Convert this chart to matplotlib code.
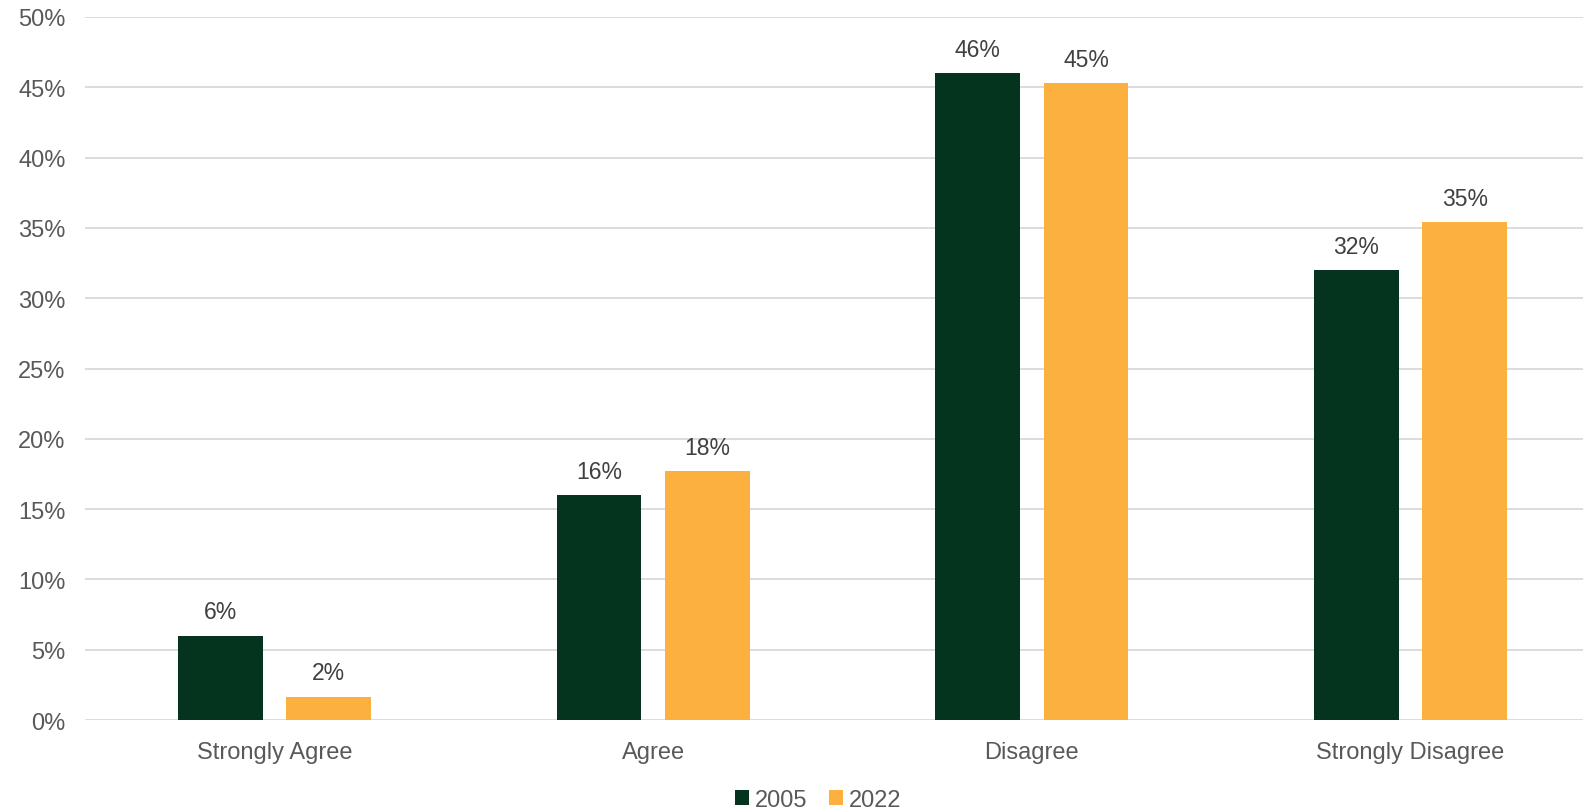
import numpy as np
import matplotlib.pyplot as plt
from matplotlib.ticker import FuncFormatter

plt.rcParams['font.family'] = ['Liberation Sans', 'DejaVu Sans']

categories = ['Strongly Agree', 'Agree', 'Disagree', 'Strongly Disagree']
years = ['2005', '2022']
vals_2005 = [6.0, 16.0, 46.0, 32.0]
vals_2022 = [1.65, 17.7, 45.3, 35.4]
labels_2005 = ['6%', '16%', '46%', '32%']
labels_2022 = ['2%', '18%', '45%', '35%']

dark = '#05341E'
orange = '#FBB040'
txt = '#595959'

fig = plt.figure(figsize=(15.83, 8.12), dpi=100)
# plot area runs a bit past the right edge, as in the original
ax = fig.add_axes([85/1583, 1-721/812, 1515/1583, (721-18)/812])

x = np.arange(len(categories))
w = 0.224
off = 0.143
b1 = ax.bar(x - off, vals_2005, w, color=dark, label=years[0], zorder=3)
b2 = ax.bar(x + off, vals_2022, w, color=orange, label=years[1], zorder=3)

for bars, labs in [(b1, labels_2005), (b2, labels_2022)]:
    for r, l in zip(bars, labs):
        ax.annotate(l, (r.get_x() + r.get_width()/2, r.get_height()),
                    xytext=(0, 9), textcoords='offset points',
                    ha='center', va='bottom', fontsize=16.5, color='#404040')

ax.set_xlim(-0.5, 3.5)
ax.set_ylim(0, 50)
ax.set_yticks(np.arange(0, 51, 5))
ax.yaxis.set_major_formatter(FuncFormatter(lambda v, p: f'{v:.0f}%'))
ax.set_xticks(x)
ax.set_xticklabels(categories)
ax.tick_params(axis='both', length=0, labelsize=17, colors=txt)
ax.tick_params(axis='y', pad=14)
ax.tick_params(axis='x', pad=15)
ax.grid(axis='y', color='#D9D9D9', linewidth=1.3, zorder=0)
for s in ax.spines.values():
    s.set_visible(False)

fig.legend(handles=[b1, b2], labels=years, loc='center', bbox_to_anchor=(0.517, 0.014),
           ncol=2, frameon=False, fontsize=17, labelcolor=txt, handlelength=0.6,
           handleheight=0.6, handletextpad=0.25, columnspacing=0.9)

fig.savefig('out.png')
